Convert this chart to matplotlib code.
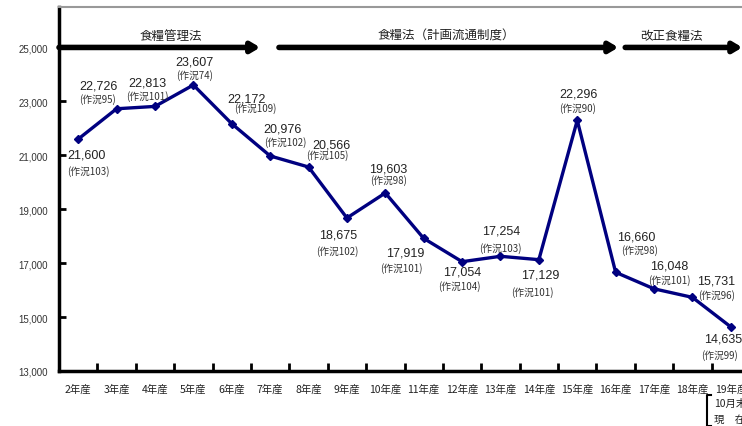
import matplotlib.pyplot as plt
from matplotlib.lines import Line2D

years = ["2年産", "3年産", "4年産", "5年産", "6年産", "7年産", "8年産", "9年産",
         "10年産", "11年産", "12年産", "13年産", "14年産", "15年産", "16年産",
         "17年産", "18年産", "19年産"]
price = [21600, 22726, 22813, 23607, 22172, 20976, 20566, 18675, 19603,
         17919, 17054, 17254, 17129, 22296, 16660, 16048, 15731, 14635]
sakkyo = [103, 95, 101, 74, 109, 102, 105, 102, 98, 101, 104, 103, 101, 90,
          98, 101, 96, 99]

# label offsets in pixels (value text, 作況 text), x right / y down
value_off = [(8, 15), (-18, -23), (-8, -24), (1, -24), (15, -25), (12, -27),
             (23, -22), (-9, 17), (3, -24), (-18, 14), (0, 10), (1, -26),
             (1, 15), (1, -27), (21, -36), (15, -23), (24, -17), (-8, 12)]
sub_off = [(10, 31), (-19, -10), (-8, -11), (1, -10), (24, -16), (15, -14),
           (19, -12), (-10, 33), (3, -13), (-22, 29), (-3, 24), (0, -9),
           (-6, 32), (0, -13), (24, -23), (15, -9), (24, -3), (-11, 28)]

periods = ["食糧管理法", "食糧法（計画流通制度）", "改正食糧法"]
period_span = [(-0.5, 4.74), (5.23, 14.07), (14.25, 17.3)]
period_label_x = [2.4, 9.6, 15.45]

plt.rcParams['font.family'] = ['Liberation Sans', 'Noto Sans CJK JP', 'DejaVu Sans']
jp = ['Noto Sans CJK JP', 'DejaVu Sans']

fig = plt.figure(figsize=(7.42, 4.27), dpi=100)
ax = fig.add_axes([59 / 742, 55 / 427, 691 / 742, 364 / 427])

x = list(range(len(years)))
ax.plot(x, price, color='#000080', lw=2.4, marker='D', markersize=4.5,
        clip_on=False, zorder=3)

for i, v in enumerate(price):
    dx, dy = value_off[i]
    ax.annotate(f"{v:,}", (i, v), xytext=(dx, -dy), textcoords='offset pixels',
                ha='center', va='center', fontsize=9, color='#222222',
                annotation_clip=False)
    dx, dy = sub_off[i]
    ax.annotate(f"(作況{sakkyo[i]})", (i, v), xytext=(dx, -dy),
                textcoords='offset pixels', ha='center', va='center',
                fontsize=7, color='#333333', family=jp, annotation_clip=False)

# law period arrows along the 25,000 line
for label, (x0, x1), lx in zip(periods, period_span, period_label_x):
    ax.annotate("", xy=(x1, 25000), xytext=(x0, 25000),
                arrowprops=dict(arrowstyle='-|>,head_length=0.5,head_width=0.3',
                                lw=4, color='black', shrinkA=0, shrinkB=0),
                annotation_clip=False)
    ax.annotate(label, (lx, 25000), xytext=(0, 12), textcoords='offset pixels',
                ha='center', va='center', fontsize=9, family=jp,
                color='#222222', annotation_clip=False)

ax.set_xlim(-0.5, len(years) - 0.5)
ax.set_ylim(13000, 26500)
ax.set_yticks(range(13000, 25001, 2000))
ax.set_yticklabels([f"{t:,}" for t in range(13000, 25001, 2000)],
                   fontsize=7, color='#333333')
ax.set_xticks(x)
ax.set_xticklabels(years, fontsize=7.5, family=jp, color='#222222')
ax.set_xticks([i + 0.5 for i in x[:-1]], minor=True)

ax.tick_params(axis='x', which='major', length=0, pad=9)
ax.tick_params(axis='x', which='minor', direction='in', length=6, width=2)
ax.tick_params(axis='y', direction='in', length=5, width=2, pad=8)

ax.spines['left'].set_linewidth(2.5)
ax.spines['bottom'].set_linewidth(2.5)
ax.spines['top'].set_color('#999999')
ax.spines['top'].set_linewidth(1.5)
ax.spines['right'].set_visible(False)

# note under the last year
fig.add_artist(Line2D([711 / 742, 707 / 742, 707 / 742, 711 / 742],
                      [1 - 396 / 427, 1 - 396 / 427, 0, 0],
                      color='black', lw=1.5))
fig.text(714 / 742, 1 - 404 / 427, "10月末", fontsize=7.5, family=jp,
         va='center', color='#222222')
fig.text(714 / 742, 1 - 420 / 427, "現　在", fontsize=7.5, family=jp,
         va='center', color='#222222')

fig.savefig("out.png", dpi=100)
